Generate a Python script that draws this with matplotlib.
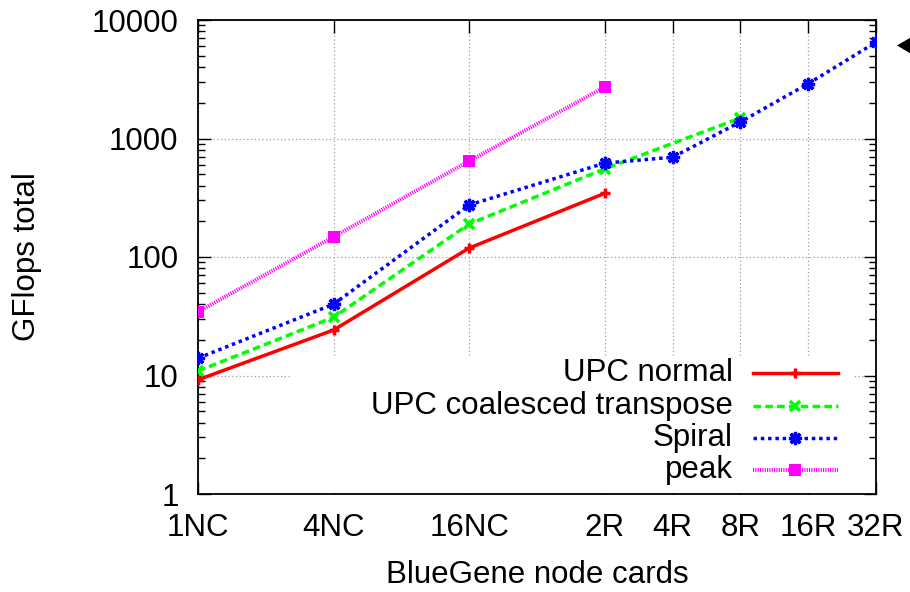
import matplotlib
matplotlib.use("Agg")
import matplotlib.pyplot as plt
from matplotlib.patches import Polygon, Rectangle
from matplotlib.ticker import FixedLocator, NullLocator, LogLocator, NullFormatter

plt.rcParams["font.family"] = ["Liberation Sans", "DejaVu Sans"]
FS = 22.5

# node-card counts (1 rack = 32 node cards)
cards = [1, 4, 16, 64, 128, 256, 512, 1024]
card_labels = ["1NC", "4NC", "16NC", "2R", "4R", "8R", "16R", "32R"]

upc_x = [1, 4, 16, 64]
upc_y = [9.2, 24.2, 119, 345]
coal_x = [1, 4, 16, 64, 256]
coal_y = [10.9, 31, 190, 555, 1490]
spiral_x = [1, 4, 16, 64, 128, 256, 512, 1024]
spiral_y = [14, 40, 275, 620, 695, 1380, 2900, 6500]
peak_x = [1, 4, 16, 64]
peak_y = [34.5, 148, 645, 2720]

RED, GREEN, BLUE, MAG = "#ff0000", "#00ff00", "#0000ff", "#ff00ff"
styles = [
    ("UPC normal", upc_x, upc_y,
     dict(color=RED, lw=2.5, ls="-", marker="+", ms=7, mew=2.5)),
    ("UPC coalesced transpose", coal_x, coal_y,
     dict(color=GREEN, lw=2.5, ls=(0, (2.2, 1.2)), marker="x", ms=7, mew=2.6)),
    ("Spiral", spiral_x, spiral_y,
     dict(color=BLUE, lw=2.5, ls=(0, (1.0, 1.1)), marker=(8, 2, 0), ms=9.5, mew=2.35)),
    ("peak", peak_x, peak_y,
     dict(color=MAG, lw=2.8, ls=(0, (0.3, 0.3)), marker="s", ms=8.5, mew=0)),
]

fig = plt.figure(figsize=(9.1, 5.92), dpi=100)
ax = fig.add_axes([198 / 910, 1 - 494 / 592, 678 / 910, 474 / 592])

for label, xs, ys, kw in styles:
    ax.plot(xs, ys, zorder=3, **kw)

ax.set_xscale("log", base=2)
ax.set_yscale("log")
ax.set_xlim(1, 1024)
ax.set_ylim(1, 10000)
ax.xaxis.set_major_locator(FixedLocator(cards))
ax.xaxis.set_minor_locator(NullLocator())
ax.set_xticklabels(card_labels)
ax.yaxis.set_major_locator(FixedLocator([1, 10, 100, 1000, 10000]))
ax.set_yticklabels(["1", "10", "100", "1000", "10000"])
ax.yaxis.set_minor_locator(LogLocator(base=10, subs=range(2, 10), numticks=20))
ax.yaxis.set_minor_formatter(NullFormatter())

ax.tick_params(which="both", direction="in", top=True, right=True,
               labelsize=FS, width=1.0, color="black")
ax.tick_params(which="major", length=9)
ax.tick_params(which="minor", length=5)
ax.tick_params(axis="y", pad=14)
ax.tick_params(axis="x", pad=14)
for sp in ax.spines.values():
    sp.set_linewidth(1.3)

ax.grid(True, which="major", color="#a0a0a0", ls=(0, (1, 2)), lw=0.9)
ax.set_axisbelow(True)

ax.set_xlabel("BlueGene node cards", fontsize=FS, labelpad=12)
ax.set_ylabel("GFlops total", fontsize=FS, labelpad=36)

# key box (opaque, no border) in the lower right
ax.add_patch(Rectangle((0.136, 0.003), 0.83, 0.286, transform=ax.transAxes,
                       facecolor="white", edgecolor="none", zorder=1))
rows = [0.2553, 0.1857, 0.1181, 0.0506]
for (label, xs, ys, kw), yr in zip(styles, rows):
    ax.text(0.789, yr, label, transform=ax.transAxes, ha="right",
            va="center", fontsize=FS, zorder=4)
    lkw = {k: v for k, v in kw.items() if k not in ("marker", "ms", "mew")}
    ax.plot([0.819, 0.944], [yr, yr], transform=ax.transAxes, zorder=4,
            clip_on=False, **lkw)
    ax.plot([0.881], [yr], transform=ax.transAxes, zorder=4, ls="none",
            clip_on=False, color=kw["color"], marker=kw["marker"],
            ms=kw["ms"], mew=kw["mew"])

# arrow head cut off at the right edge
fig.patches.append(Polygon([(897 / 910, 1 - 45.5 / 592), (925 / 910, 1 - 29 / 592),
                            (925 / 910, 1 - 62 / 592)], closed=True,
                           transform=fig.transFigure, facecolor="black",
                           edgecolor="none"))

fig.savefig("out.png", dpi=100)
